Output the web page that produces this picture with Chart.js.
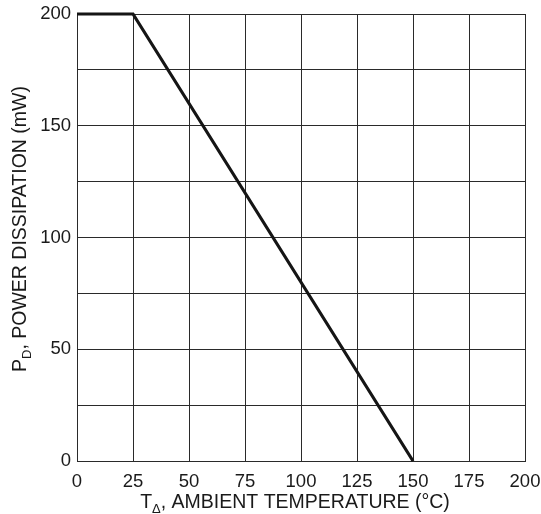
<!DOCTYPE html>
<html>
<head>
<meta charset="utf-8">
<script src="https://cdn.jsdelivr.net/npm/chart.js@4/dist/chart.umd.min.js"></script>
<style>
html,body{margin:0;padding:0;background:#fff;}
#wrap{width:541px;height:514px;position:relative;}
</style>
</head>
<body>
<div id="wrap"><canvas id="c" width="541" height="514"></canvas></div>
<script>
// Data
const temperatures = [0, 25, 150];          // T_A (°C)
const powerDissipation = [200, 200, 0];     // P_D (mW)
const xTickValues = [0, 25, 50, 75, 100, 125, 150, 175, 200];
const yLabelValues = [0, 50, 100, 150, 200];

const xTitle = {main: 'T', sub: 'Δ', rest: ', AMBIENT TEMPERATURE (°C)'};
const yTitle = {main: 'P', sub: 'D', rest: ', POWER DISSIPATION (mW)'};

const FONT = '"Liberation Sans", Arial, sans-serif';

function drawSubTitle(ctx, t, size, subSize, subDrop) {
  ctx.font = size + 'px ' + FONT;
  const w1 = ctx.measureText(t.main).width;
  const w3 = ctx.measureText(t.rest).width;
  ctx.font = subSize + 'px ' + FONT;
  const w2 = ctx.measureText(t.sub).width;
  const total = w1 + w2 + w3;
  let x = -total / 2;
  ctx.textBaseline = 'alphabetic';
  ctx.textAlign = 'left';
  ctx.font = size + 'px ' + FONT;
  ctx.fillText(t.main, x, 0); x += w1;
  ctx.font = subSize + 'px ' + FONT;
  ctx.fillText(t.sub, x, subDrop); x += w2;
  ctx.font = size + 'px ' + FONT;
  ctx.fillText(t.rest, x, 0);
}

const titlePlugin = {
  id: 'titles',
  afterDraw(chart) {
    const ctx = chart.ctx;
    ctx.save();
    ctx.fillStyle = '#1a1a1a';
    ctx.translate(295, 508);
    drawSubTitle(ctx, xTitle, 19.5, 13, 5);
    ctx.restore();
    ctx.save();
    ctx.fillStyle = '#1a1a1a';
    ctx.translate(26, 229);
    ctx.rotate(-Math.PI / 2);
    drawSubTitle(ctx, yTitle, 19.5, 13, 5);
    ctx.restore();
  }
};

new Chart(document.getElementById('c'), {
  type: 'line',
  data: {
    datasets: [{
      data: temperatures.map((t, i) => ({x: t, y: powerDissipation[i]})),
      borderColor: '#151515',
      borderWidth: 3.2,
      pointRadius: 0,
      tension: 0,
      fill: false,
      clip: false
    }]
  },
  options: {
    responsive: false,
    animation: false,
    devicePixelRatio: 1,
    layout: {padding: {top: 14, right: 16, left: 0, bottom: 0}},
    plugins: {legend: {display: false}, tooltip: {enabled: false}},
    scales: {
      x: {
        type: 'linear',
        min: 0, max: 200,
        afterBuildTicks: s => { s.ticks = xTickValues.map(v => ({value: v})); },
        afterFit: s => { s.height = 53; s.paddingLeft = 0; s.paddingRight = 0; },
        grid: {color: '#2a2a2a', lineWidth: 1, drawTicks: false},
        border: {color: '#2a2a2a', width: 1},
        ticks: {
          color: '#1a1a1a', padding: 10, maxRotation: 0, autoSkip: false,
          font: {family: FONT, size: 18.5}
        }
      },
      y: {
        type: 'linear',
        min: 0, max: 200,
        afterBuildTicks: s => {
          const t = [];
          for (let v = 0; v <= 200; v += 25) t.push({value: v});
          s.ticks = t;
        },
        afterFit: s => { s.width = 77; s.paddingTop = 0; s.paddingBottom = 0; },
        grid: {color: '#2a2a2a', lineWidth: 1, drawTicks: false},
        border: {color: '#2a2a2a', width: 1},
        ticks: {
          color: '#1a1a1a', padding: 6, autoSkip: false,
          font: {family: FONT, size: 18.5},
          callback: v => yLabelValues.includes(v) ? String(v) : ''
        }
      }
    }
  },
  plugins: [titlePlugin]
});
</script>
</body>
</html>
